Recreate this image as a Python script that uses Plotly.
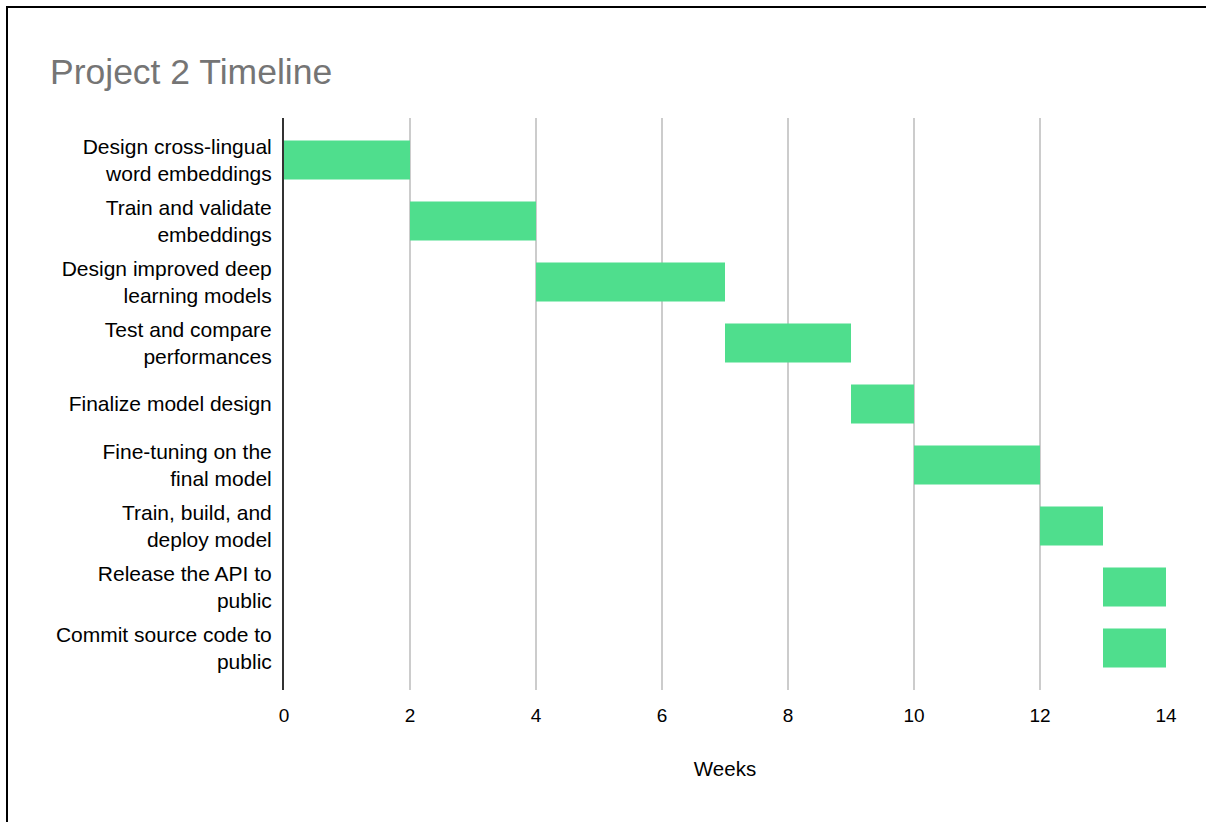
import plotly.graph_objects as go

tasks = [
    "Design cross-lingual<br>word embeddings",
    "Train and validate<br>embeddings",
    "Design improved deep<br>learning models",
    "Test and compare<br>performances",
    "Finalize model design",
    "Fine-tuning on the<br>final model",
    "Train, build, and<br>deploy model",
    "Release the API to<br>public",
    "Commit source code to<br>public",
]
start_week = [0, 2, 4, 7, 9, 10, 12, 13, 13]
duration = [2, 2, 3, 2, 1, 2, 1, 1, 1]
x_ticks = [0, 2, 4, 6, 8, 10, 12, 14]

FONT = "Liberation Sans, Arial, sans-serif"

fig = go.Figure(go.Bar(
    y=tasks, x=duration, base=start_week, orientation="h",
    marker=dict(color="#4FDE8D", line=dict(width=0)),
    width=0.64, hoverinfo="skip",
))

fig.update_layout(
    width=1206, height=822,
    margin=dict(l=284, r=40, t=118, b=132),
    paper_bgcolor="white", plot_bgcolor="white",
    font=dict(family=FONT, color="#000000"),
    showlegend=False,
    title=dict(text="Project 2 Timeline", x=50/1206, xanchor="left",
               y=1-72/822, yanchor="middle",
               font=dict(size=35.5, color="#757575", family=FONT)),
    xaxis=dict(range=[0, 14], tickvals=x_ticks, showgrid=True,
               gridcolor="#CCCCCC", gridwidth=2, zeroline=False,
               showline=False, ticks="", tickfont=dict(size=19),
               ticklabelstandoff=12,
               title=dict(text="Weeks", font=dict(size=20.5), standoff=36)),
    yaxis=dict(autorange=False, range=[8.69, -0.69], categoryorder="array",
               categoryarray=tasks, showgrid=False, zeroline=False,
               showline=True, linecolor="#333333", linewidth=2,
               ticks="", ticklabelstandoff=6, tickfont=dict(size=21)),
    shapes=[dict(type="rect", xref="paper", yref="paper",
                 x0=(7-284)/882, x1=1.2, y0=-0.4, y1=(690-7)/572,
                 line=dict(color="black", width=2), fillcolor="rgba(0,0,0,0)",
                 layer="below")],
)

fig.write_html("out.html")
